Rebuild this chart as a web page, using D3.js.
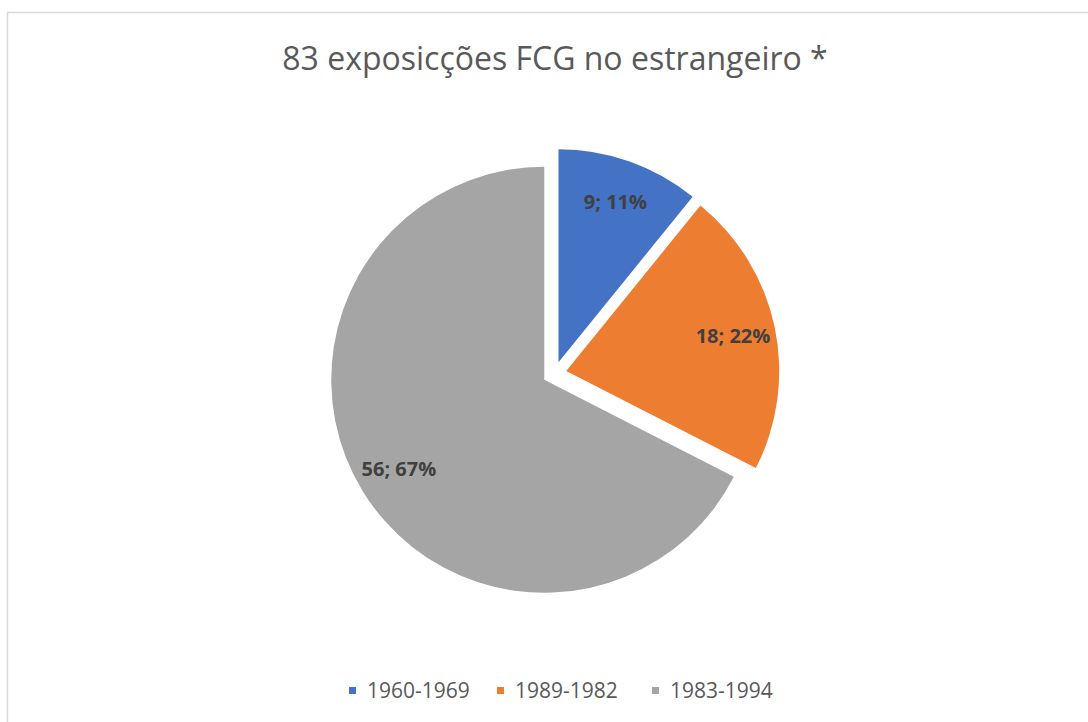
<!DOCTYPE html>
<html>
<head>
<meta charset="utf-8">
<script src="https://cdn.jsdelivr.net/npm/d3@7"></script>
<style>
  body { margin: 0; background: #fff; }
  svg { display: block; }
</style>
</head>
<body>
<div id="chart"></div>
<script>
const categories = ["1960-1969", "1989-1982", "1983-1994"];
const values = [9, 18, 56];
const percents = ["11%", "22%", "67%"];
const colors = ["#4472c4", "#ed7d31", "#a5a5a5"];
const title = "83 exposicções FCG no estrangeiro *";

const width = 1088, height = 722;
const svg = d3.select("#chart").append("svg")
  .attr("width", width)
  .attr("height", height);

// chart area border (runs off the right and bottom of the picture)
svg.append("rect")
  .attr("x", 7.5).attr("y", 12.5)
  .attr("width", 1200).attr("height", 800)
  .attr("fill", "#fff")
  .attr("stroke", "#d9d9d9")
  .attr("stroke-width", 1.5);

svg.append("text")
  .attr("x", 555).attr("y", 70)
  .attr("text-anchor", "middle")
  .attr("font-family", "Open Sans, sans-serif")
  .attr("font-size", 32)
  .attr("fill", "#595959")
  .text(title);

let cx = 554.5, cy = 373.5, r = 213, explode = 12;

const pie = d3.pie().sort(null).value(d => d)(values);
const arc = d3.arc().innerRadius(0).outerRadius(r);

const g = svg.append("g").attr("transform", `translate(${cx},${cy})`);

const slices = g.selectAll("g.slice")
  .data(pie)
  .enter()
  .append("g")
  .attr("class", "slice")
  .attr("transform", d => {
    let a = (d.startAngle + d.endAngle) / 2;
    return `translate(${explode * Math.sin(a)},${-explode * Math.cos(a)})`;
  });

slices.append("path")
  .attr("d", arc)
  .attr("fill", (d, i) => colors[i]);

slices.append("text")
  .attr("transform", d => {
    let a = (d.startAngle + d.endAngle) / 2;
    let lr = r * 0.8;
    return `translate(${lr * Math.sin(a)},${lr * Math.cos(a) * -1})`;
  })
  .attr("dy", "0.35em")
  .attr("text-anchor", "middle")
  .attr("font-family", "Open Sans, sans-serif")
  .attr("font-weight", "bold")
  .attr("font-size", 20)
  .attr("fill", "#404040")
  .text((d, i) => values[i] + "; " + percents[i]);

// legend
let legendX = [349, 497, 652];
const legend = svg.selectAll("g.legend")
  .data(categories)
  .enter()
  .append("g")
  .attr("class", "legend")
  .attr("transform", (d, i) => `translate(${legendX[i]},691)`);

legend.append("rect")
  .attr("x", 0).attr("y", -4)
  .attr("width", 7).attr("height", 7)
  .attr("fill", (d, i) => colors[i]);

legend.append("text")
  .attr("x", 18).attr("y", 0)
  .attr("dy", "0.35em")
  .attr("font-family", "Open Sans, sans-serif")
  .attr("font-size", 21)
  .attr("fill", "#595959")
  .text(d => d);
</script>
</body>
</html>
